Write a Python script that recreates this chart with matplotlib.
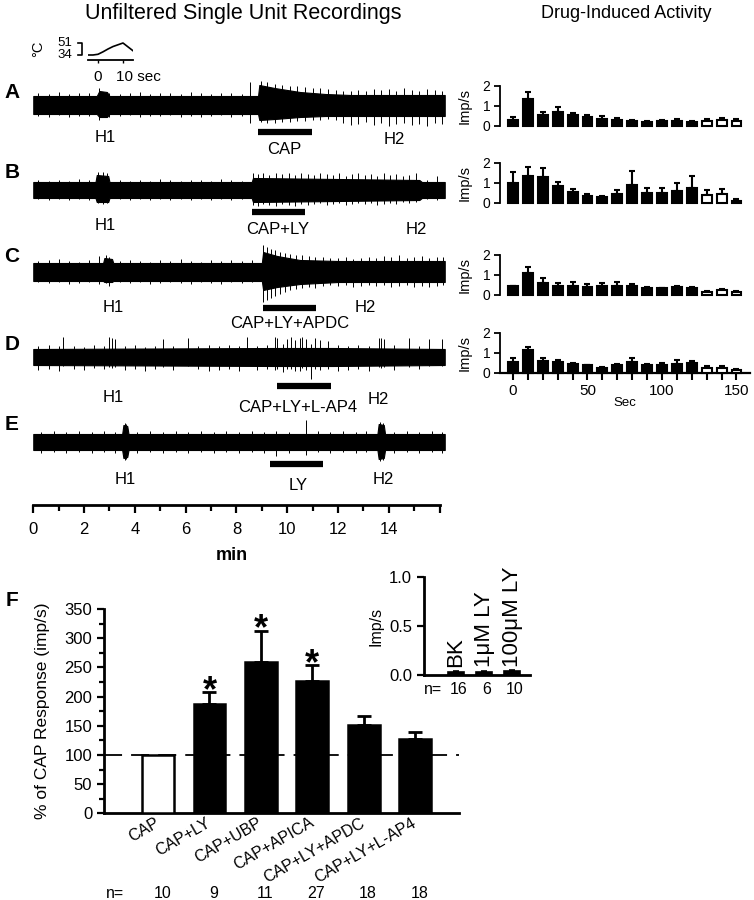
import matplotlib
matplotlib.use('Agg')
import matplotlib.pyplot as plt
from matplotlib.ticker import MultipleLocator, FixedLocator
from matplotlib.transforms import blended_transform_factory

plt.rcParams['font.family'] = ['Liberation Sans', 'DejaVu Sans']

# ------------------------------------------------------------------ data
# Temperature ramp inset (sec, deg C)
temp_t = [-4, -2, 0, 2, 4, 6, 8, 10, 12, 14]
temp_c = [34, 34, 35, 38.5, 42.5, 46, 48.5, 51, 45.5, 40]

# Trace envelopes (time in min, amplitude up/down in display units) and visible spikes
A_env_t = [0, 2.5, 2.6, 2.9, 3.0, 8.85, 8.9, 9.5, 10.5, 11.5, 12.5, 16.2]
A_env_up = [9, 9, 14, 13, 9, 9, 20, 17, 13, 11, 10, 10]
A_env_dn = [9, 9, 12, 12, 9, 9, 15, 14, 12, 11, 11, 11]
A_spk_t = [0.2, 0.6, 1.0, 1.4, 1.8, 2.2, 2.6, 3.0, 3.4, 3.8, 4.2, 4.6, 5.0, 5.4, 5.8, 6.2, 6.6, 7.0, 7.4, 7.8,
           8.2, 8.55, 8.95, 9.2, 9.5, 9.8, 10.1, 10.4, 10.7, 11.0, 11.3, 11.6, 11.9, 12.2, 12.5, 12.8, 13.1, 13.4,
           13.7, 14.0, 14.3, 14.6, 14.9, 15.2, 15.5, 15.8, 16.1]
A_spk_up = [12, 11, 13, 11, 12, 12, 17, 12, 11, 12, 13, 11, 12, 12, 11, 13, 12, 11, 12, 12,
            11, 23, 24, 23, 21, 20, 19, 19, 18, 17, 17, 16, 15, 14, 14, 15, 14, 16,
            15, 16, 14, 17, 15, 14, 16, 15, 14]
A_spk_dn = [11, 12, 10, 12, 11, 11, 15, 12, 11, 10, 12, 11, 11, 10, 12, 11, 12, 11, 10, 12,
            11, 18, 17, 18, 18, 17, 17, 16, 16, 15, 15, 14, 15, 18, 20, 19, 17, 20,
            18, 21, 19, 18, 20, 19, 21, 18, 19]

B_env_t = [0, 2.45, 2.5, 2.95, 3.0, 8.6, 8.65, 12.0, 15.2, 15.3, 16.2]
B_env_up = [8, 8, 15, 14, 8, 8, 12, 11, 10, 8, 8]
B_env_dn = [8, 8, 12, 12, 8, 8, 12, 11, 10, 8, 8]
B_spk_t = [0.2, 0.6, 1.0, 1.4, 1.8, 2.2, 2.55, 2.75, 2.9, 3.4, 3.8, 4.2, 4.6, 5.0, 5.4, 5.8, 6.2, 6.6, 7.0, 7.4,
           7.8, 8.2, 8.65, 8.85, 9.05, 9.3, 9.55, 9.8, 10.05, 10.3, 10.55, 10.8, 11.05, 11.3, 11.55, 11.8, 12.05,
           12.3, 12.55, 12.8, 13.05, 13.3, 13.55, 13.8, 14.05, 14.3, 14.55, 14.8, 15.05, 15.5, 15.9]
B_spk_up = [10, 9, 10, 9, 11, 10, 18, 18, 17, 10, 9, 10, 9, 11, 10, 9, 10, 10, 9, 11,
            10, 9, 17, 16, 17, 15, 17, 16, 17, 15, 17, 16, 15, 17, 16, 15, 17,
            14, 16, 17, 15, 16, 14, 17, 15, 16, 14, 15, 17, 10, 14]
B_spk_dn = [9, 10, 9, 10, 9, 10, 13, 14, 13, 9, 10, 9, 10, 9, 10, 9, 10, 9, 10, 9,
            10, 9, 15, 16, 14, 15, 16, 14, 15, 16, 14, 15, 14, 13, 15, 14, 13,
            15, 14, 13, 14, 13, 15, 14, 13, 14, 12, 13, 12, 9, 10]

C_env_t = [0, 2.75, 2.8, 3.1, 3.15, 9.0, 9.05, 9.6, 10.5, 12.0, 16.2]
C_env_up = [9, 9, 14, 13, 9, 9, 20, 16, 12, 11, 11]
C_env_dn = [9, 9, 10, 10, 9, 9, 18, 15, 12, 10, 10]
C_spk_t = [0.2, 0.6, 1.0, 1.4, 1.8, 2.2, 2.6, 2.85, 3.0, 3.4, 3.8, 4.2, 4.6, 5.0, 5.4, 5.8, 6.2, 6.6, 7.0, 7.4,
           7.8, 8.2, 8.6, 9.05, 9.2, 9.35, 9.5, 9.7, 9.9, 10.1, 10.35, 10.6, 10.85, 11.1, 11.4, 11.7, 12.0, 12.3,
           12.6, 12.9, 13.2, 13.5, 13.8, 14.1, 14.4, 14.7, 15.0, 15.3, 15.6, 15.9, 16.15]
C_spk_up = [11, 12, 13, 11, 10, 12, 16, 17, 15, 11, 12, 11, 10, 12, 11, 13, 11, 10, 12, 11,
            12, 11, 12, 27, 25, 23, 22, 20, 19, 18, 17, 17, 16, 15, 15, 14, 14, 15,
            13, 14, 15, 14, 16, 15, 17, 14, 15, 16, 14, 15, 15]
C_spk_dn = [10, 11, 10, 12, 11, 10, 12, 11, 14, 10, 11, 10, 12, 11, 10, 11, 12, 10, 11, 12,
            10, 11, 10, 30, 28, 26, 24, 22, 20, 18, 17, 16, 15, 16, 14, 13, 14, 13,
            15, 14, 13, 14, 13, 15, 14, 13, 15, 14, 15, 14, 13]

D_env_t = [0, 9.5, 11.8, 16.2]
D_env_up = [8, 9, 9, 8]
D_env_dn = [8, 9, 9, 8]
D_spk_t = [0.2, 0.6, 1.0, 1.17, 1.6, 2.0, 2.4, 2.8, 3.0, 3.1, 3.2, 3.6, 4.0, 4.4, 4.8, 5.1, 5.5, 6.1, 6.5, 6.9,
           7.3, 7.7, 8.1, 8.4, 8.8, 9.2, 9.5, 9.6, 9.85, 10.0, 10.15, 10.3, 10.5, 10.6, 10.75, 10.95, 11.1, 11.3,
           11.6, 12.0, 12.4, 12.8, 13.2, 13.6, 13.7, 13.8, 14.2, 14.8, 15.2, 15.6, 16.1]
D_spk_up = [11, 12, 11, 20, 11, 10, 12, 11, 20, 19, 18, 11, 12, 10, 11, 18, 11, 19, 11, 12,
            11, 12, 11, 20, 11, 12, 20, 19, 13, 18, 20, 17, 19, 20, 18, 13, 19, 17,
            16, 12, 11, 12, 11, 19, 19, 18, 12, 19, 11, 18, 18]
D_spk_dn = [13, 12, 14, 9, 12, 13, 11, 12, 10, 11, 10, 13, 12, 14, 12, 10, 13, 9, 12, 14,
            13, 12, 14, 8, 13, 12, 13, 12, 15, 12, 12, 14, 14, 11, 13, 22, 12, 13,
            12, 14, 13, 12, 14, 10, 11, 10, 13, 10, 12, 9, 9]

E_env_t = [0, 3.5, 3.55, 3.7, 3.75, 13.55, 13.6, 13.8, 13.85, 16.2]
E_env_up = [8, 8, 17, 16, 8, 8, 18, 17, 8, 8]
E_env_dn = [8, 8, 16, 15, 8, 8, 17, 16, 8, 8]
E_spk_t = [0.3, 0.8, 1.3, 1.8, 2.3, 2.8, 3.2, 3.6, 3.65, 4.1, 4.6, 5.1, 5.6, 6.1, 6.6, 7.1, 7.6, 8.1, 8.6, 9.1,
           9.55, 10.05, 10.75, 11.2, 11.7, 12.2, 12.7, 13.1, 13.65, 13.75, 14.2, 14.7, 15.2, 15.7, 16.1]
E_spk_up = [10, 11, 10, 11, 10, 11, 10, 19, 18, 10, 11, 10, 11, 10, 11, 10, 11, 10, 11, 10,
            11, 10, 22, 11, 10, 11, 10, 11, 20, 19, 10, 11, 10, 11, 10]
E_spk_dn = [11, 10, 11, 10, 11, 10, 11, 18, 17, 11, 10, 11, 10, 11, 10, 11, 10, 11, 10, 11,
            14, 11, 13, 10, 11, 10, 11, 10, 19, 18, 11, 10, 11, 10, 11]

trace_labels = ['A', 'B', 'C', 'D', 'E']
drug_labels = ['CAP', 'CAP+LY', 'CAP+LY+APDC', 'CAP+LY+L-AP4', 'LY']
drug_start = [8.85, 8.61, 9.04, 9.59, 9.32]
drug_end = [10.97, 10.70, 11.13, 11.72, 11.40]

time_ticks = [0, 2, 4, 6, 8, 10, 12, 14]

# Drug-induced activity (Imp/s) in 10-s bins
sec_bins = [0, 10, 20, 30, 40, 50, 60, 70, 80, 90, 100, 110, 120, 130, 140, 150]
act_A = [0.28, 1.33, 0.55, 0.67, 0.53, 0.45, 0.33, 0.30, 0.25, 0.20, 0.22, 0.25, 0.20, 0.25, 0.28, 0.25]
act_A_err = [0.42, 1.67, 0.67, 0.95, 0.62, 0.55, 0.47, 0.37, 0.30, 0.22, 0.27, 0.32, 0.23, 0.32, 0.37, 0.33]
act_B = [1.00, 1.37, 1.30, 0.83, 0.53, 0.33, 0.30, 0.47, 0.92, 0.50, 0.50, 0.62, 0.75, 0.42, 0.47, 0.12]
act_B_err = [1.53, 1.80, 1.75, 1.03, 0.72, 0.43, 0.37, 0.63, 1.60, 0.75, 0.75, 1.00, 1.33, 0.63, 0.72, 0.20]
act_C = [0.45, 1.08, 0.58, 0.47, 0.47, 0.38, 0.45, 0.47, 0.45, 0.37, 0.33, 0.38, 0.33, 0.17, 0.25, 0.17]
act_C_err = [0.47, 1.38, 0.87, 0.62, 0.67, 0.53, 0.62, 0.67, 0.55, 0.42, 0.35, 0.45, 0.38, 0.20, 0.28, 0.18]
act_D = [0.55, 1.13, 0.58, 0.55, 0.47, 0.38, 0.27, 0.38, 0.55, 0.38, 0.38, 0.47, 0.50, 0.25, 0.25, 0.17]
act_D_err = [0.75, 1.30, 0.77, 0.67, 0.50, 0.42, 0.28, 0.43, 0.75, 0.47, 0.50, 0.63, 0.60, 0.35, 0.33, 0.20]
n_filled = 13

# Panel F
f_cats = ['CAP', 'CAP+LY', 'CAP+UBP', 'CAP+APICA', 'CAP+LY+APDC', 'CAP+LY+L-AP4']
f_mean = [100, 188, 260, 227, 152, 127]
f_err = [0, 19, 53, 27, 15, 13]
f_n = [10, 9, 11, 27, 18, 18]
f_sig = [False, True, True, True, False, False]

ins_cats = ['BK', '1\u03bcM LY', '100\u03bcM LY']
ins_mean = [0.03, 0.03, 0.04]
ins_err = [0.01, 0.01, 0.015]
ins_n = [16, 6, 10]

# ------------------------------------------------------------------ layout helpers
W, H = 754, 900
fig = plt.figure(figsize=(W / 100, H / 100), dpi=100)


def px_axes(l, t, r, b):
    return fig.add_axes([l / W, 1 - b / H, (r - l) / W, (b - t) / H])


def ftext(x, y, s, **kw):
    kw.setdefault('ha', 'center')
    kw.setdefault('va', 'center')
    fig.text(x / W, 1 - y / H, s, **kw)


# Titles
ftext(243, 13, 'Unfiltered Single Unit Recordings', fontsize=15.5)
ftext(626, 13, 'Drug-Induced Activity', fontsize=13)

# ------------------------------------------------------------------ traces
ax = px_axes(32, 60, 446, 505)
ax.set_xlim(-0.05, 16.25)
ax.set_ylim(505, 60)
centers = [105, 190, 272, 357, 442]
envs = [(A_env_t, A_env_up, A_env_dn, A_spk_t, A_spk_up, A_spk_dn),
        (B_env_t, B_env_up, B_env_dn, B_spk_t, B_spk_up, B_spk_dn),
        (C_env_t, C_env_up, C_env_dn, C_spk_t, C_spk_up, C_spk_dn),
        (D_env_t, D_env_up, D_env_dn, D_spk_t, D_spk_up, D_spk_dn),
        (E_env_t, E_env_up, E_env_dn, E_spk_t, E_spk_up, E_spk_dn)]
letter_y = [92, 172, 256, 345, 425]
bar_y = [132, 212, 308, 386, 464]
h_lab = [(2.82, 137, 14.2, 140, 9.9, 150),
         (2.82, 225, 15.1, 230, 9.63, 229),
         (3.14, 308, 13.06, 307, 10.1, 323),
         (3.14, 398, 13.57, 400, 10.42, 407),
         (3.61, 480, 13.77, 480, 10.42, 485)]
for i, (et, eu, ed, st, su, sd) in enumerate(envs):
    c = centers[i]
    ax.fill_between(et, [c - u for u in eu], [c + d for d in ed], color='black', lw=0.8)
    ax.vlines(st, [c - u for u in su], [c + d for d in sd], color='black', lw=0.7)
    ax.hlines(bar_y[i], drug_start[i], drug_end[i], color='black', lw=4.5)
    h1x, h1y, h2x, h2y, dx, dy = h_lab[i]
    ax.text(h1x, h1y, 'H1', ha='center', va='center', fontsize=12)
    ax.text(h2x, h2y, 'H2', ha='center', va='center', fontsize=12)
    ax.text(dx, dy, drug_labels[i], ha='center', va='center', fontsize=12)
    ftext(12, letter_y[i], trace_labels[i], fontsize=15, fontweight='bold')

for s in ['left', 'right', 'top']:
    ax.spines[s].set_visible(False)
ax.spines['bottom'].set_linewidth(2)
ax.spines['bottom'].set_bounds(0, 16)
ax.set_yticks([])
ax.xaxis.set_major_locator(FixedLocator(time_ticks + [16]))
ax.set_xticklabels([str(t) for t in time_ticks] + [''])
ax.xaxis.set_minor_locator(FixedLocator([1, 3, 5, 7, 9, 11, 13, 15]))
ax.tick_params(axis='x', which='major', direction='out', length=6, width=1.6, labelsize=12, pad=6)
ax.tick_params(axis='x', which='minor', direction='out', length=4.5, width=1.6)
ftext(232, 555, 'min', fontsize=13, fontweight='bold')

# Temperature inset
axt = px_axes(88, 42.3, 133, 60)
axt.plot(temp_t, temp_c, color='black', lw=1.2)
axt.set_xlim(-4, 14)
axt.set_ylim(26.9, 52)
for s in ['left', 'right', 'top']:
    axt.spines[s].set_visible(False)
axt.spines['bottom'].set_linewidth(1.3)
axt.set_yticks([])
axt.set_xticks([0, 10])
axt.set_xticklabels([])
axt.tick_params(axis='x', direction='out', length=2, width=1)
axt.plot([-8.0, -6.6, -6.6, -8.0], [51, 51, 34, 34], color='black', lw=1.2, clip_on=False)
axt.patch.set_visible(False)
ftext(72, 42.5, '51', fontsize=9.5, ha='right')
ftext(72, 55.5, '34', fontsize=9.5, ha='right')
ftext(38, 49, '\u00b0C', fontsize=10.5, rotation=90)
ftext(98, 77, '0', fontsize=11)
ftext(116, 77, '10 sec', fontsize=11, ha='left')

# ------------------------------------------------------------------ drug-induced activity panels
acts = [(act_A, act_A_err), (act_B, act_B_err), (act_C, act_C_err), (act_D, act_D_err)]
zero_y = [125.5, 203, 295, 373]
pps = 1.49  # px per second
for k, (m, e) in enumerate(acts):
    y0 = zero_y[k]
    a = px_axes(513 - 8.5 * pps, y0 - 40, 513 + 159 * pps, y0)
    a.set_xlim(-8.5, 159)
    a.set_ylim(0, 2)
    fcs = ['black'] * n_filled + ['white'] * (len(sec_bins) - n_filled)
    a.bar(sec_bins, m, width=6.7, color=fcs, edgecolor='black', lw=1.5, clip_on=False, zorder=3)
    a.errorbar(sec_bins, m, yerr=[[0] * len(m), [ee - mm for ee, mm in zip(e, m)]],
               fmt='none', ecolor='black', elinewidth=1.5, capsize=2.5, capthick=1.5, zorder=2)
    for s in ['right', 'top']:
        a.spines[s].set_visible(False)
    a.spines['left'].set_linewidth(1.3)
    a.spines['left'].set_bounds(0, 2)
    a.set_yticks([0, 1, 2])
    a.tick_params(axis='y', direction='out', length=4, width=1.3, labelsize=10, pad=3)
    a.patch.set_visible(False)
    ftext(465, y0 - 20, 'Imp/s', rotation=90, fontsize=10.5)
    if k < 3:
        a.spines['bottom'].set_visible(False)
        a.set_xticks([])
    else:
        a.spines['bottom'].set_linewidth(1.6)
        a.set_xticks([0, 50, 100, 150])
        a.xaxis.set_minor_locator(MultipleLocator(10))
        a.tick_params(axis='x', which='both', direction='out', length=5, width=1.5, labelsize=11, pad=3)
ftext(625, 403, 'Sec', fontsize=9.5)

# ------------------------------------------------------------------ panel F
axf = px_axes(104, 609, 459, 813.3)
xs = list(range(len(f_cats)))
axf.axhline(100, color='black', lw=1.3, dashes=(10, 5), zorder=0)
fcf = ['white'] + ['black'] * (len(f_cats) - 1)
axf.bar(xs, f_mean, width=0.62, color=fcf, edgecolor='black', lw=1.8, zorder=3)
axf.errorbar(xs[1:], f_mean[1:], yerr=[[0] * 5, f_err[1:]], fmt='none', ecolor='black',
             elinewidth=2, capsize=5, capthick=2, zorder=2)
for i in xs:
    if f_sig[i]:
        axf.annotate('*', (i, f_mean[i] + f_err[i]), xytext=(0, -6.5), textcoords='offset points',
                     ha='center', va='baseline', fontsize=26, fontweight='bold')
axf.set_xlim(-1.05, 5.85)
axf.set_ylim(0, 350)
for s in ['right', 'top']:
    axf.spines[s].set_visible(False)
axf.spines['left'].set_linewidth(2)
axf.spines['bottom'].set_linewidth(2)
axf.yaxis.set_major_locator(MultipleLocator(50))
axf.yaxis.set_minor_locator(MultipleLocator(25))
axf.tick_params(axis='y', which='major', direction='out', length=5, width=1.6, labelsize=12)
axf.tick_params(axis='y', which='minor', direction='out', length=3.5, width=1.6)
axf.set_xticks(xs)
axf.set_xticklabels(f_cats, rotation=30, ha='right', va='center', rotation_mode='anchor', fontsize=11.5)
axf.tick_params(axis='x', length=0, pad=6)
axf.set_ylabel('% of CAP Response (imp/s)', fontsize=12.5, labelpad=10)
trf = blended_transform_factory(axf.transData, fig.transFigure)
ftext(115, 893, 'n=', fontsize=11.5)
for i in xs:
    axf.text(i + 0.08, 1 - 893 / H, str(f_n[i]), transform=trf, ha='center', va='center', fontsize=11.5)
ftext(12, 600, 'F', fontsize=15, fontweight='bold')

# Inset
axi = px_axes(424, 577, 530, 675)
xi = list(range(len(ins_cats)))
axi.bar(xi, ins_mean, width=0.6, color='black', edgecolor='black', lw=1.2, zorder=3)
axi.errorbar(xi, ins_mean, yerr=[[0] * 3, ins_err], fmt='none', ecolor='black', elinewidth=1.2,
             capsize=2, capthick=1.2)
axi.set_xlim(-1.143, 2.64)
axi.set_ylim(0, 1)
for s in ['right', 'top']:
    axi.spines[s].set_visible(False)
axi.spines['left'].set_linewidth(2)
axi.spines['bottom'].set_linewidth(2)
axi.set_yticks([0, 0.5, 1.0])
axi.set_yticklabels(['0.0', '0.5', '1.0'])
axi.tick_params(axis='y', direction='out', length=5, width=1.6, labelsize=12)
axi.set_xticks([])
axi.patch.set_visible(False)
for i in xi:
    axi.text(i, 0.08, ins_cats[i], rotation=90, ha='center', va='bottom', fontsize=16)
axi.set_ylabel('Imp/s', fontsize=11.5, labelpad=4)
tri = blended_transform_factory(axi.transData, fig.transFigure)
ftext(424, 690, 'n=', fontsize=11.5, ha='left')
for i in xi:
    axi.text(i + 0.1, 1 - 690 / H, str(ins_n[i]), transform=tri, ha='center', va='center', fontsize=11.5)

fig.savefig('out.png', dpi=100)
